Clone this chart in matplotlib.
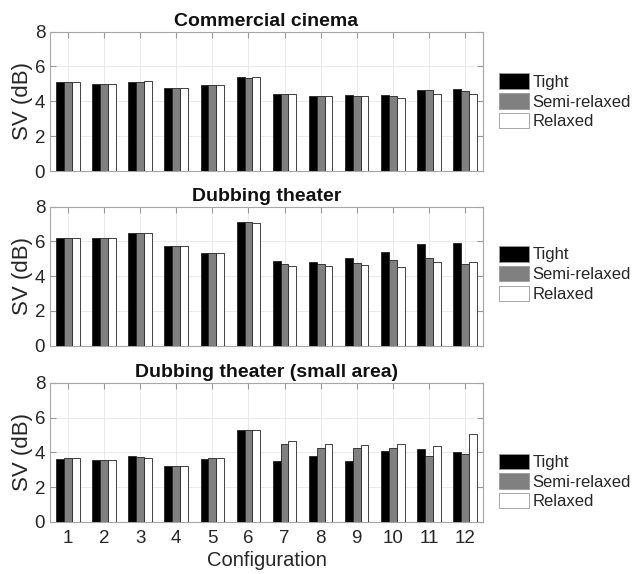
import numpy as np
import matplotlib
matplotlib.use("Agg")
import matplotlib.pyplot as plt

plt.rcParams['font.family'] = ['Liberation Sans', 'DejaVu Sans']

configs = np.arange(1, 13)
series_names = ['Tight', 'Semi-relaxed', 'Relaxed']
titles = ['Commercial cinema', 'Dubbing theater', 'Dubbing theater (small area)']

# SV (dB) per configuration
cinema_tight = [5.10, 5.00, 5.13, 4.79, 4.92, 5.38, 4.40, 4.29, 4.35, 4.35, 4.67, 4.73]
cinema_semi = [5.10, 5.00, 5.13, 4.79, 4.92, 5.36, 4.40, 4.31, 4.31, 4.33, 4.67, 4.58]
cinema_relaxed = [5.10, 4.99, 5.17, 4.79, 4.92, 5.38, 4.40, 4.33, 4.29, 4.21, 4.44, 4.40]

dub_tight = [6.20, 6.20, 6.46, 5.73, 5.34, 7.10, 4.85, 4.83, 5.06, 5.37, 5.83, 5.88]
dub_semi = [6.20, 6.20, 6.46, 5.73, 5.34, 7.10, 4.71, 4.67, 4.75, 4.92, 5.06, 4.67]
dub_relaxed = [6.20, 6.20, 6.48, 5.72, 5.34, 7.08, 4.60, 4.60, 4.65, 4.54, 4.81, 4.81]

small_tight = [3.62, 3.58, 3.77, 3.23, 3.63, 5.29, 3.50, 3.77, 3.52, 4.08, 4.17, 4.04]
small_semi = [3.65, 3.58, 3.73, 3.21, 3.65, 5.31, 4.50, 4.23, 4.23, 4.23, 3.79, 3.89]
small_relaxed = [3.67, 3.56, 3.69, 3.19, 3.67, 5.31, 4.67, 4.48, 4.44, 4.50, 4.35, 5.03]

panels = [
    [cinema_tight, cinema_semi, cinema_relaxed],
    [dub_tight, dub_semi, dub_relaxed],
    [small_tight, small_semi, small_relaxed],
]
colors = ['black', '#808080', 'white']

fig = plt.figure(figsize=(6.33, 5.74), dpi=100)
ax_boxes = [
    [0.079, 0.702, 0.684, 0.243],
    [0.079, 0.398, 0.684, 0.242],
    [0.079, 0.091, 0.684, 0.242],
]
legend_y = [0.50, 0.515, 0.29]

bw = 0.218
for k, (box, data, title) in enumerate(zip(ax_boxes, panels, titles)):
    ax = fig.add_axes(box)
    for j, vals in enumerate(data):
        ax.bar(configs + (j - 1) * bw, vals, width=bw, color=colors[j],
               edgecolor='#222222', linewidth=0.6, label=series_names[j], zorder=3)
    ax.set_xlim(0.5, 12.5)
    ax.set_ylim(0, 8)
    ax.set_yticks([0, 2, 4, 6, 8])
    ax.set_xticks(configs)
    ax.grid(True, color='#ebebeb', linewidth=0.7, zorder=0)
    ax.set_axisbelow(True)
    ax.tick_params(direction='in', top=True, right=True, length=4,
                   color='#999999', labelsize=13.5, labelcolor='#262626')
    ax.tick_params(axis='x', pad=6)
    for sp in ax.spines.values():
        sp.set_color('#a6a6a6')
        sp.set_linewidth(0.8)
    ax.set_ylabel('SV (dB)', fontsize=16, color='#262626', labelpad=1)
    ax.set_title(title, fontsize=14, fontweight='bold', pad=4, color='#111111')
    if k < 2:
        ax.set_xticklabels([])
    else:
        ax.set_xlabel('Configuration', fontsize=14.5, color='#262626', labelpad=3)
    leg = ax.legend(loc='center left', bbox_to_anchor=(1.036, legend_y[k]),
                    frameon=False, fontsize=12, handlelength=1.8,
                    handleheight=1.05, handletextpad=0.25, labelspacing=0.2,
                    borderpad=0, borderaxespad=0)
    for t in leg.get_texts():
        t.set_color('#262626')
    for h in leg.legend_handles:
        h.set_edgecolor('#999999')

fig.savefig('out.png', dpi=100)
